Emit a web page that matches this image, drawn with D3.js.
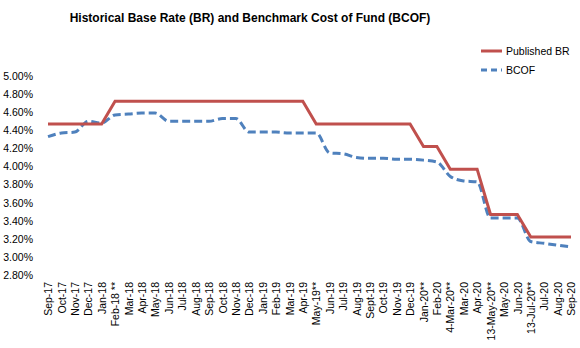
<!DOCTYPE html>
<html>
<head>
<meta charset="utf-8">
<script src="https://cdn.jsdelivr.net/npm/d3@7"></script>
<style>
  body { margin: 0; background: #fff; }
  svg text { font-family: "Liberation Sans", Arial, sans-serif; fill: #000; }
</style>
</head>
<body>
<svg id="chart" width="580" height="348"></svg>
<script>
var months = ["Sep-17","Oct-17","Nov-17","Dec-17","Jan-18","Feb-18 **","Mar-18","Apr-18","May-18","Jun-18",
  "Jul-18","Aug-18","Sep-18","Oct-18","Nov-18","Dec-18","Jan-19","Feb-19","Mar-19","Apr-19",
  "May-19**","Jun-19","Jul-19","Aug-19","Sept-19","Oct-19","Nov-19","Dec-19","Jan-20**","Feb-20",
  "4-Mar-20**","Mar-20","Apr-20","13-May-20**","May-20","Jun-20","13-Jul-20**","Jul-20","Aug-20","Sep-20"];

var publishedBR = [4.47,4.47,4.47,4.47,4.47,4.72,4.72,4.72,4.72,4.72,
  4.72,4.72,4.72,4.72,4.72,4.72,4.72,4.72,4.72,4.72,
  4.47,4.47,4.47,4.47,4.47,4.47,4.47,4.47,4.22,4.22,
  3.97,3.97,3.97,3.47,3.47,3.47,3.22,3.22,3.22,3.22];

var bcof = [4.33,4.37,4.38,4.50,4.48,4.57,4.58,4.59,4.59,4.50,
  4.50,4.50,4.50,4.53,4.53,4.38,4.38,4.38,4.37,4.37,
  4.37,4.15,4.14,4.10,4.09,4.09,4.08,4.08,4.07,4.05,
  3.89,3.84,3.83,3.43,3.43,3.43,3.17,3.15,3.13,3.11];

var yTicks = [2.8,3.0,3.2,3.4,3.6,3.8,4.0,4.2,4.4,4.6,4.8,5.0];

var svg = d3.select("#chart");

var x = d3.scalePoint().domain(months).range([48, 571]);
var y = d3.scaleLinear().domain([2.8, 5.0]).range([275, 76]);

svg.append("text")
  .attr("x", 250).attr("y", 22)
  .attr("text-anchor", "middle")
  .style("font-size", "12px")
  .style("font-weight", "bold")
  .text("Historical Base Rate (BR) and Benchmark Cost of Fund (BCOF)");

// y axis, labels only
var yAxis = d3.axisLeft(y).tickValues(yTicks).tickSize(0).tickPadding(0)
  .tickFormat(function(d){ return d.toFixed(2) + "%"; });
var gy = svg.append("g").attr("transform", "translate(33,0)").call(yAxis);
gy.select(".domain").remove();
gy.selectAll("text").style("font-size", "10.5px").style("font-family", "Liberation Sans, Arial, sans-serif");

// x axis, rotated labels
var xAxis = d3.axisBottom(x).tickSize(0).tickPadding(0);
var gx = svg.append("g").attr("transform", "translate(0,282)").call(xAxis);
gx.select(".domain").remove();
gx.selectAll("text")
  .style("font-size", "10.5px")
  .style("font-family", "Liberation Sans, Arial, sans-serif")
  .attr("text-anchor", "end")
  .attr("transform", "rotate(-90)")
  .attr("x", 0).attr("y", 0).attr("dy", "0.35em");

var brLine = d3.line()
  .x(function(d, i){ return x(months[i]); })
  .y(function(d){ return y(d); });

var bcofLine = d3.line()
  .x(function(d, i){ return x(months[i]); })
  .y(function(d){ return y(d); })
  .curve(d3.curveMonotoneX);

svg.append("path").datum(bcof)
  .attr("d", bcofLine)
  .attr("fill", "none")
  .attr("stroke", "#4F81BD")
  .attr("stroke-width", 3)
  .attr("stroke-dasharray", "8,4");

svg.append("path").datum(publishedBR)
  .attr("d", brLine)
  .attr("fill", "none")
  .attr("stroke", "#C0504D")
  .attr("stroke-width", 3);

// legend
var legend = [
  {name: "Published BR", color: "#C0504D", dash: null, y: 51},
  {name: "BCOF", color: "#4F81BD", dash: "6,4", y: 70}
];
var lg = svg.append("g").selectAll("g").data(legend).enter().append("g");
lg.append("line")
  .attr("x1", 481).attr("x2", 502)
  .attr("y1", function(d){ return d.y; }).attr("y2", function(d){ return d.y; })
  .attr("stroke", function(d){ return d.color; })
  .attr("stroke-width", 3)
  .attr("stroke-dasharray", function(d){ return d.dash; });
lg.append("text")
  .attr("x", 506).attr("y", function(d){ return d.y; })
  .attr("dy", "0.35em")
  .style("font-size", "10.5px")
  .text(function(d){ return d.name; });
</script>
</body>
</html>
